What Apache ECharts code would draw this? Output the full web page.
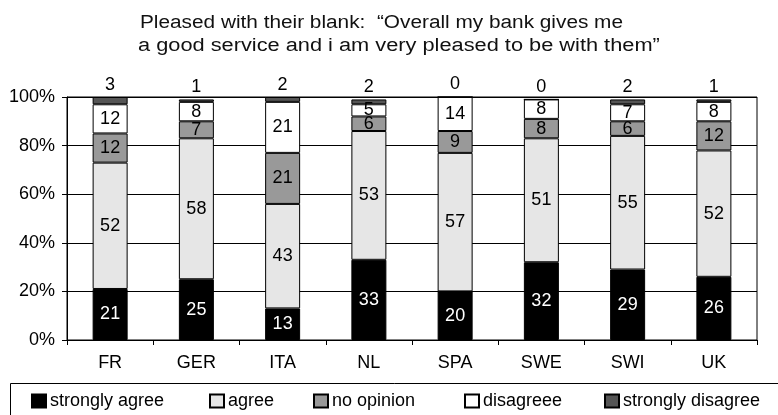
<!DOCTYPE html>
<html>
<head>
<meta charset="utf-8">
<title>Pleased with their bank</title>
<script src="https://cdn.jsdelivr.net/npm/echarts@6/dist/echarts.min.js"></script>
<style>
  html, body { margin: 0; padding: 0; background: #fff; }
  #chart { width: 778px; height: 415px; }
</style>
</head>
<body>
<div id="chart"></div>
<script>
// Survey answers per country, in percent
var countries = ['FR', 'GER', 'ITA', 'NL', 'SPA', 'SWE', 'SWI', 'UK'];
var stronglyAgree    = [21, 25, 13, 33, 20, 32, 29, 26];
var agree            = [52, 58, 43, 53, 57, 51, 55, 52];
var noOpinion        = [12,  7, 21,  6,  9,  8,  6, 12];
var disagree         = [12,  8, 21,  5, 14,  8,  7,  8];
var stronglyDisagree = [ 3,  1,  2,  2,  0,  0,  2,  1];
var yTicks = [0, 20, 40, 60, 80, 100];

var titleLines = [
  'Pleased with their blank:  \u201cOverall my bank gives me',
  'a good service and i am very pleased to be with them\u201d'
];

var FONT = "'Liberation Sans', Arial, Helvetica, sans-serif";

function segment(name, values, fill, labelColor, labelPos) {
  return {
    name: name,
    type: 'bar',
    stack: 'total',
    barWidth: 35,
    data: values,
    itemStyle: { color: fill, borderColor: '#000', borderWidth: 1 },
    label: {
      show: true,
      position: labelPos || 'inside',
      distance: 3,
      color: labelColor,
      fontFamily: FONT,
      fontSize: 18
    },
    emphasis: { disabled: true }
  };
}

function headingLine(text, x, y, sx) {
  return {
    type: 'text',
    x: x,
    y: y,
    scaleX: sx,
    style: {
      text: text,
      font: '18px ' + FONT,
      fill: '#111',
      textAlign: 'left',
      textVerticalAlign: 'top'
    },
    silent: true
  };
}

var legendNames = ['strongly agree', 'agree', 'no opinion', 'disagreee', 'strongly disagree'];
var legendX = [31, 209, 313, 464, 604];

var chart = echarts.init(document.getElementById('chart'));
chart.setOption({
  animation: false,
  backgroundColor: '#fff',
  legend: legendNames.map(function (n, i) {
    return {
      data: [{ name: n, icon: 'rect' }],
      left: legendX[i],
      top: 392,
      padding: 0,
      itemWidth: 14,
      itemHeight: 13,
      itemGap: 4,
      selectedMode: false,
      textStyle: { fontFamily: FONT, fontSize: 18, color: '#000', padding: [0, 0, 0, -1] }
    };
  }),
  graphic: [{
    // legend frame, open past the right and bottom edges
    type: 'rect',
    shape: { x: 10.5, y: 383.5, width: 775, height: 40 },
    style: { fill: 'none', stroke: '#000', lineWidth: 1 },
    silent: true
  },
  // two-line heading, set in a wide face
  headingLine(titleLines[0], 140, 14, 1.155),
  headingLine(titleLines[1], 138, 37, 1.21)
  ],
  grid: {
    left: 67,
    right: 21,
    top: 97,
    bottom: 75,
    show: true,
    borderColor: '#000',
    borderWidth: 1,
    backgroundColor: 'transparent'
  },
  xAxis: {
    type: 'category',
    data: countries,
    axisLine: { lineStyle: { color: '#000', width: 1 } },
    axisTick: { show: true, length: 5, lineStyle: { color: '#000' } },
    axisLabel: { fontFamily: FONT, fontSize: 18, color: '#000', margin: 14 }
  },
  yAxis: {
    type: 'value',
    min: yTicks[0],
    max: yTicks[yTicks.length - 1],
    interval: 20,
    axisLine: { show: true, lineStyle: { color: '#000', width: 1 } },
    axisTick: { show: true, length: 5, lineStyle: { color: '#000' } },
    splitLine: { show: true, lineStyle: { color: '#000', width: 1 } },
    axisLabel: { fontFamily: FONT, fontSize: 18, color: '#000', margin: 12, formatter: '{value}%' }
  },
  series: [
    segment('strongly agree', stronglyAgree, '#000000', '#fff'),
    segment('agree', agree, '#e6e6e6', '#000'),
    segment('no opinion', noOpinion, '#999999', '#000'),
    segment('disagreee', disagree, '#ffffff', '#000'),
    segment('strongly disagree', stronglyDisagree, '#555555', '#000', 'top')
  ]
});
</script>
</body>
</html>
